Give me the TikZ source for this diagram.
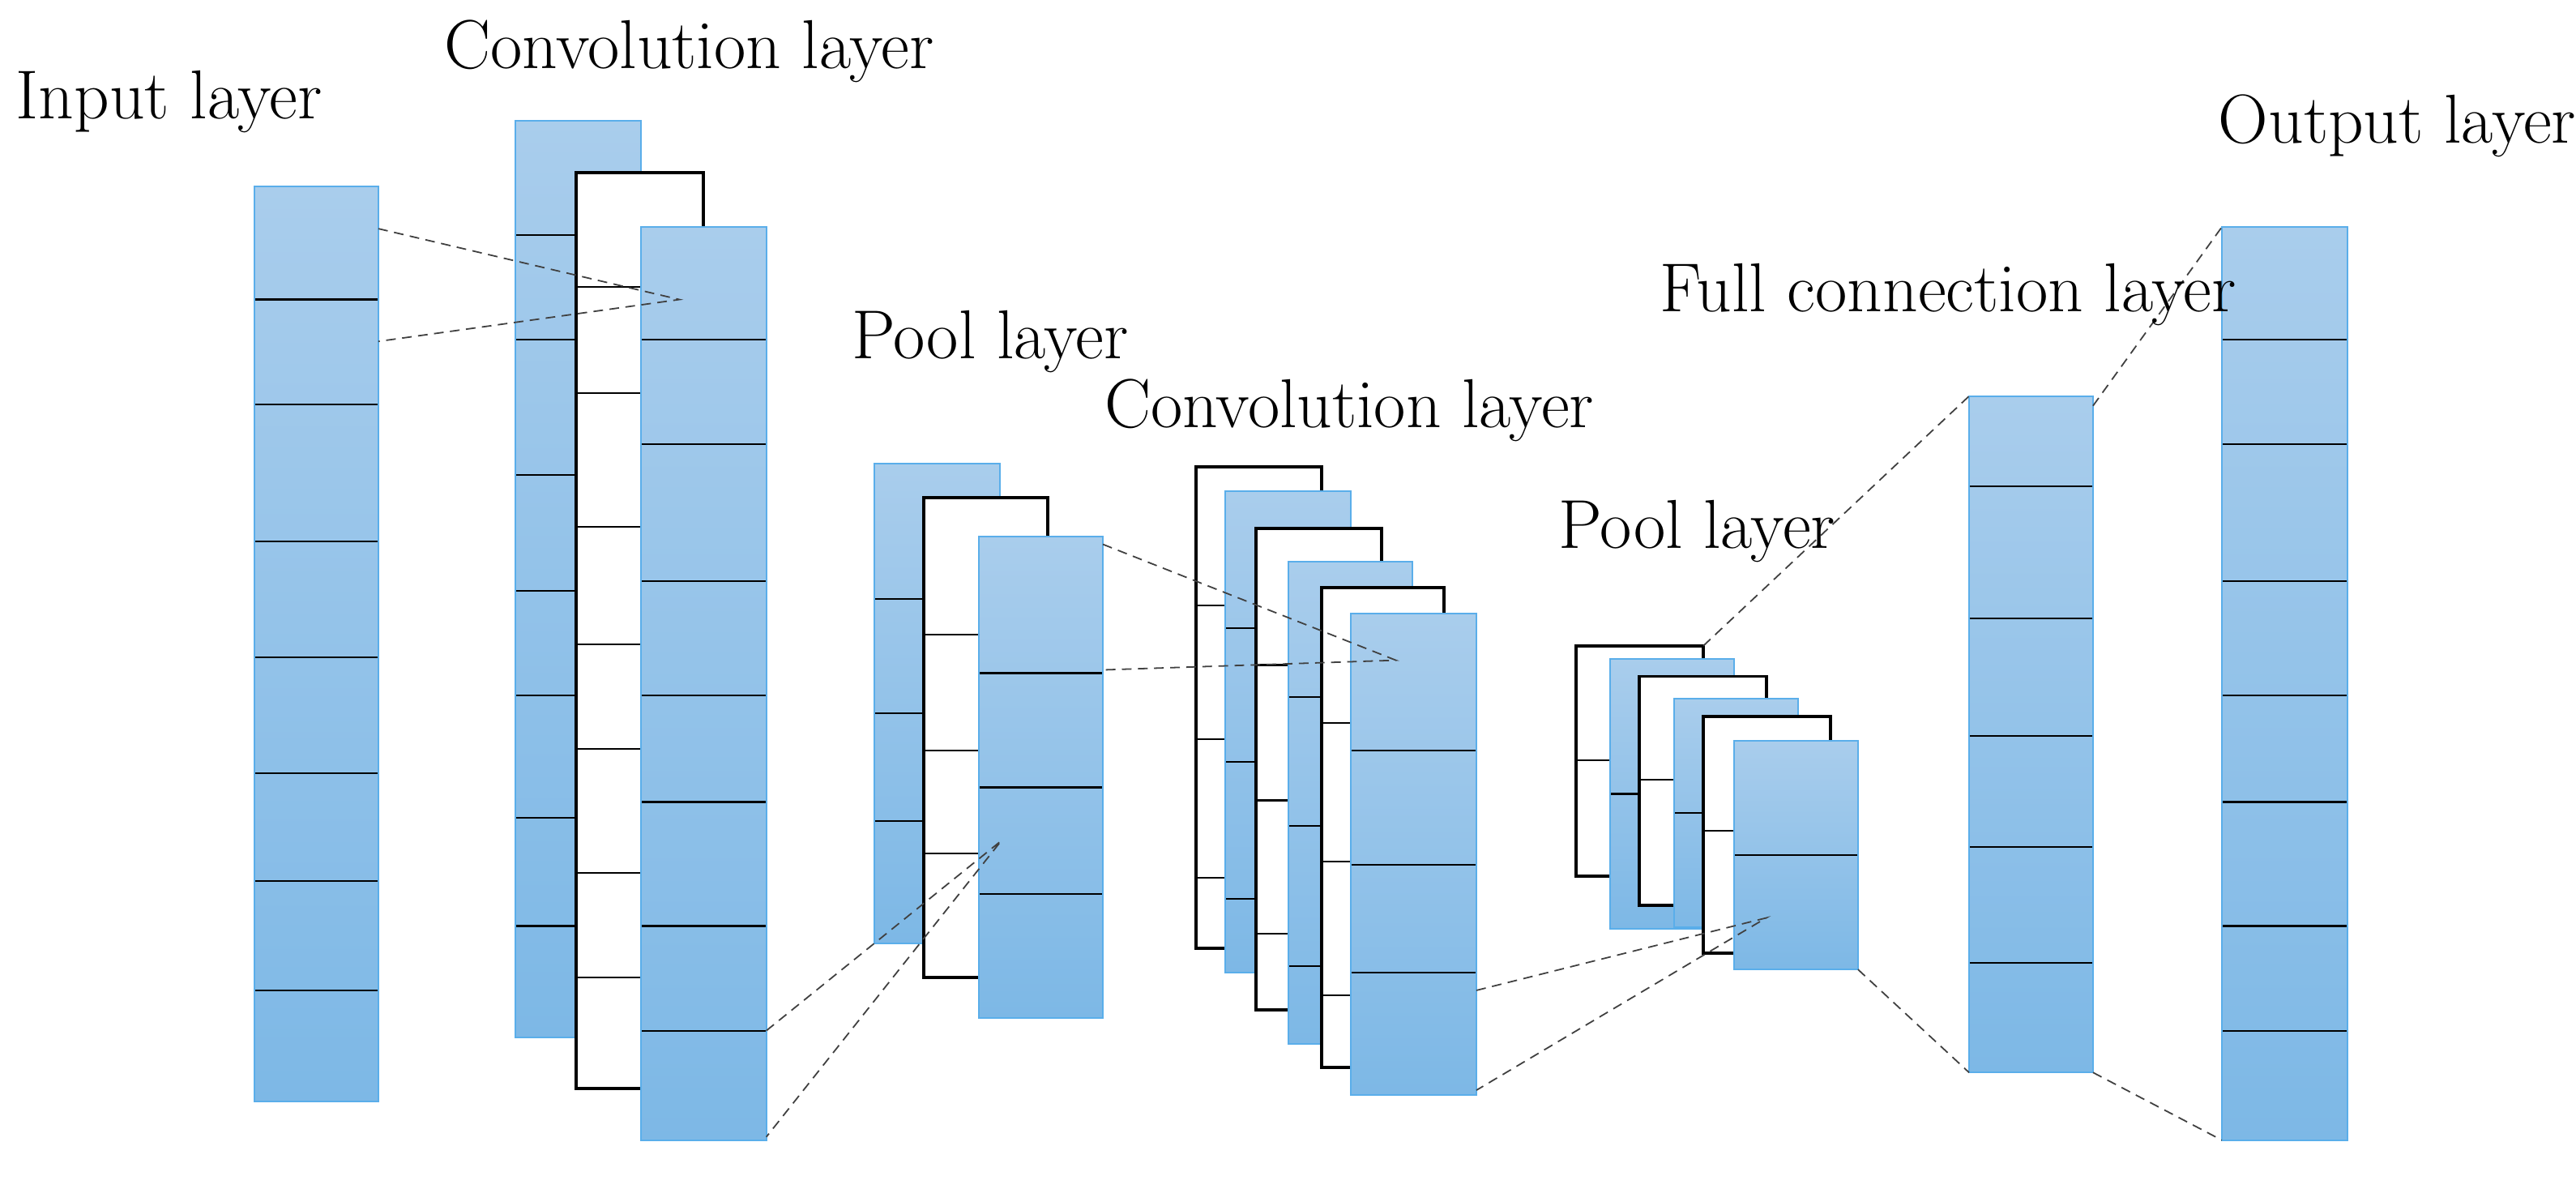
\documentclass[tikz,border=0pt]{standalone}
\begin{document}
\begin{tikzpicture}[x=0.5pt,y=-0.5pt,
  lbl/.style={font=\fontsize{21.5}{25}\selectfont,inner sep=0pt},
  dashln/.style={densely dashed,line width=0.45pt,black!75},
  bluefill/.style={top color=blue1,bottom color=blue2},
  bluefill border/.style={draw=blueedge,line width=0.5pt},
  whitefill/.style={fill=white},
  whitefill border/.style={draw=black,line width=1pt}]
\definecolor{blue1}{HTML}{A9CDEC}
\definecolor{blue2}{HTML}{7DB8E6}
\definecolor{blueedge}{HTML}{5AAEEA}
\useasboundingbox (0,0) rectangle (1600,738);
\newcommand{\myblk}[6]{% style, x1,y1,x2,y2, dividers
  \path[#1] (#2,#3) rectangle (#4,#5);
  \foreach \d in {#6} {\draw[line width=0.55pt] (#2,\d) -- (#4,\d);}
  \path[#1 border] (#2,#3) rectangle (#4,#5);
}
% input
\myblk{bluefill}{158}{116}{235}{684}{186,251,336,408,480,547,615}
% conv1
\myblk{bluefill}{320}{75}{398}{644}{146,211,295,367,432,508,575}
\myblk{whitefill}{358}{107}{437}{676}{178,244,327,400,465,542,607}
\myblk{bluefill}{398}{141}{476}{708}{211,276,361,432,498,575,640}
% pool1
\myblk{bluefill}{543}{288}{621}{586}{372,443,510}
\myblk{whitefill}{574}{309}{651}{607}{394,466,530}
\myblk{bluefill}{608}{333}{685}{632}{418,489,555}
% conv2
\myblk{whitefill}{743}{290}{821}{589}{376,459,545}
\myblk{bluefill}{761}{305}{839}{604}{390,473,558}
\myblk{whitefill}{780}{328}{858}{627}{413,497,580}
\myblk{bluefill}{800}{349}{877}{648}{433,513,600}
\myblk{whitefill}{821}{365}{897}{663}{449,535,618}
\myblk{bluefill}{839}{381}{917}{680}{466,537,604}
% pool2
\myblk{whitefill}{979}{401}{1058}{544}{472}
\myblk{bluefill}{1000}{409}{1077}{577}{493}
\myblk{whitefill}{1018}{420}{1097}{562}{484}
\myblk{bluefill}{1040}{434}{1117}{576}{505}
\myblk{whitefill}{1058}{445}{1137}{592}{516}
\myblk{bluefill}{1077}{460}{1154}{602}{531}
% full connection
\myblk{bluefill}{1223}{246}{1300}{666}{302,384,457,526,598}
% output
\myblk{bluefill}{1380}{141}{1458}{708}{211,276,361,432,498,575,640}
% coordinates
\coordinate (i1) at (235,142); \coordinate (i2) at (235,212); \coordinate (c1p) at (422,186);
\coordinate (c1a) at (476,640); \coordinate (c1b) at (476,706); \coordinate (p1p) at (622,522);
\coordinate (p1a) at (685,338); \coordinate (p1b) at (685,416); \coordinate (c2p) at (867,410);
\coordinate (c2a) at (917,615); \coordinate (c2b) at (917,677); \coordinate (p2p) at (1097,570);
\coordinate (p2a) at (1058,401); \coordinate (p2b) at (1154,602);
\coordinate (f1) at (1223,246); \coordinate (f2) at (1223,666);
\coordinate (f3) at (1300,252); \coordinate (f4) at (1300,666);
\coordinate (o1) at (1380,141); \coordinate (o2) at (1380,708);
\draw[dashln] (i1) -- (c1p) -- (i2);
\draw[dashln] (c1a) -- (p1p) -- (c1b);
\draw[dashln] (p1a) -- (c2p) -- (p1b);
\draw[dashln] (c2a) -- (p2p) -- (c2b);
\draw[dashln] (p2a) -- (f1);
\draw[dashln] (p2b) -- (f2);
\draw[dashln] (f3) -- (o1);
\draw[dashln] (f4) -- (o2);
% labels
\node[lbl] (t1) at (105,63) {Input layer};
\node[lbl] (t2) at (428,32) {Convolution layer};
\node[lbl] (t3) at (615,212) {Pool layer};
\node[lbl] (t4) at (838,255) {Convolution layer};
\node[lbl] (t5) at (1054,330) {Pool layer};
\node[lbl] (t6) at (1210,183) {Full connection layer};
\node[lbl] (t7) at (1489,78) {Output layer};
\end{tikzpicture}
\end{document}
